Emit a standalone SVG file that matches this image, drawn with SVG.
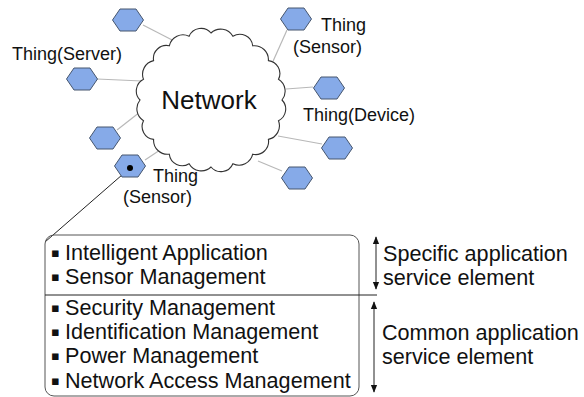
<svg xmlns="http://www.w3.org/2000/svg" xmlns:xlink="http://www.w3.org/1999/xlink" width="584" height="397" viewBox="0 0 584 397">
<style>
text{font-family:"Liberation Sans",Arial,sans-serif;fill:#111}
.lbl{font-size:18px}
.big{font-size:21.6px}
.bul{font-size:13px;font-family:"DejaVu Sans",sans-serif}
.hex{fill:#86AAE8;stroke:#46566E;stroke-width:1}
.conn{stroke:#B8B8B8;stroke-width:1.2;fill:none}
.blk{stroke:#222;stroke-width:1;fill:none}
</style>
<defs>
<polygon id="hx" points="-15.5,0 -8,-11 8,-11 15.5,0 8,11 -8,11"/>
<marker id="ah" viewBox="0 0 10 10" refX="9" refY="5" markerWidth="8" markerHeight="8" orient="auto-start-reverse" markerUnits="userSpaceOnUse">
<path d="M0,1 L10,5 L0,9 Z" fill="#111"/>
</marker>
</defs>
<rect width="584" height="397" fill="#fff"/>
<g id="connectors">
<line class="conn" x1="143" y1="25" x2="176" y2="42"/>
<line class="conn" x1="97" y1="79" x2="142" y2="81"/>
<line class="conn" x1="117" y1="130" x2="140" y2="112"/>
<line class="conn" x1="145" y1="160" x2="160" y2="150"/>
<line class="conn" x1="287" y1="30" x2="270" y2="68"/>
<line class="conn" x1="313" y1="87" x2="286" y2="89"/>
<line class="conn" x1="322" y1="144" x2="278" y2="136"/>
<line class="conn" x1="282" y1="171" x2="258" y2="161"/>
<line class="blk" x1="130" y1="168" x2="45" y2="242"/>
<line class="blk" x1="376" y1="237" x2="376" y2="289" marker-start="url(#ah)" marker-end="url(#ah)"/>
<line class="blk" x1="374" y1="302" x2="374" y2="392" marker-start="url(#ah)" marker-end="url(#ah)"/>
</g>
<g id="network">
<path d="M282,100 A13,13 0 0 1 278.5,120.7 A14,14 0 0 1 268.4,139.4 A13,13 0 0 1 252.7,154.2 A14,14 0 0 1 232.9,163.7 A13,13 0 0 1 211,167 A14,14 0 0 1 189.1,163.7 A13,13 0 0 1 169.3,154.2 A14,14 0 0 1 153.6,139.4 A13,13 0 0 1 143.5,120.7 A14,14 0 0 1 140,100 A13,13 0 0 1 143.5,79.3 A14,14 0 0 1 153.6,60.6 A13,13 0 0 1 169.3,45.8 A14,14 0 0 1 189.1,36.3 A13,13 0 0 1 211,33 A14,14 0 0 1 232.9,36.3 A13,13 0 0 1 252.7,45.8 A14,14 0 0 1 268.4,60.6 A13,13 0 0 1 278.5,79.3 A14,14 0 0 1 282,100 Z" fill="#fff" stroke="#333" stroke-width="1.1"/>
<text x="209" y="109" font-size="26" text-anchor="middle">Network</text>
</g>
<g id="thing-1"><use xlink:href="#hx" class="hex" x="128" y="20"/></g>
<g id="thing-server"><use xlink:href="#hx" class="hex" x="82" y="79"/><text class="lbl" x="12" y="60">Thing(Server)</text></g>
<g id="thing-3"><use xlink:href="#hx" class="hex" x="105" y="138"/></g>
<g id="thing-sensor-2"><use xlink:href="#hx" class="hex" x="130" y="166"/><circle cx="130" cy="168" r="3" fill="#000"/>
<text class="lbl" x="153" y="182">Thing</text><text class="lbl" x="123" y="203">(Sensor)</text></g>
<g id="thing-sensor-1"><use xlink:href="#hx" class="hex" x="296" y="19"/>
<text class="lbl" x="321" y="31">Thing</text><text class="lbl" x="293" y="53">(Sensor)</text></g>
<g id="thing-device"><use xlink:href="#hx" class="hex" x="329" y="88"/><text class="lbl" x="303" y="121">Thing(Device)</text></g>
<g id="thing-7"><use xlink:href="#hx" class="hex" x="337" y="148"/></g>
<g id="thing-8"><use xlink:href="#hx" class="hex" x="297" y="178"/></g>
<g id="stack">
<rect x="45" y="235" width="314" height="161" rx="9" fill="none" stroke="#555" stroke-width="1"/>
<line x1="45" y1="295" x2="377" y2="295" stroke="#222" stroke-width="1"/>
<g class="big">
<text y="260"><tspan class="bul" x="51" dy="-3">▪</tspan><tspan x="65" dy="3">Intelligent Application</tspan></text>
<text y="284"><tspan class="bul" x="51" dy="-3">▪</tspan><tspan x="65" dy="3">Sensor Management</tspan></text>
<text y="315"><tspan class="bul" x="51" dy="-3">▪</tspan><tspan x="65" dy="3">Security Management</tspan></text>
<text y="339"><tspan class="bul" x="51" dy="-3">▪</tspan><tspan x="65" dy="3">Identification Management</tspan></text>
<text y="363"><tspan class="bul" x="51" dy="-3">▪</tspan><tspan x="65" dy="3">Power Management</tspan></text>
<text y="388"><tspan class="bul" x="51" dy="-3">▪</tspan><tspan x="65" dy="3">Network Access Management</tspan></text>
</g>
</g>
<g id="specific" class="big"><text x="383" y="261">Specific application</text><text x="383" y="285">service element</text></g>
<g id="common" class="big"><text x="382" y="340">Common application</text><text x="382" y="364">service element</text></g>
</svg>
